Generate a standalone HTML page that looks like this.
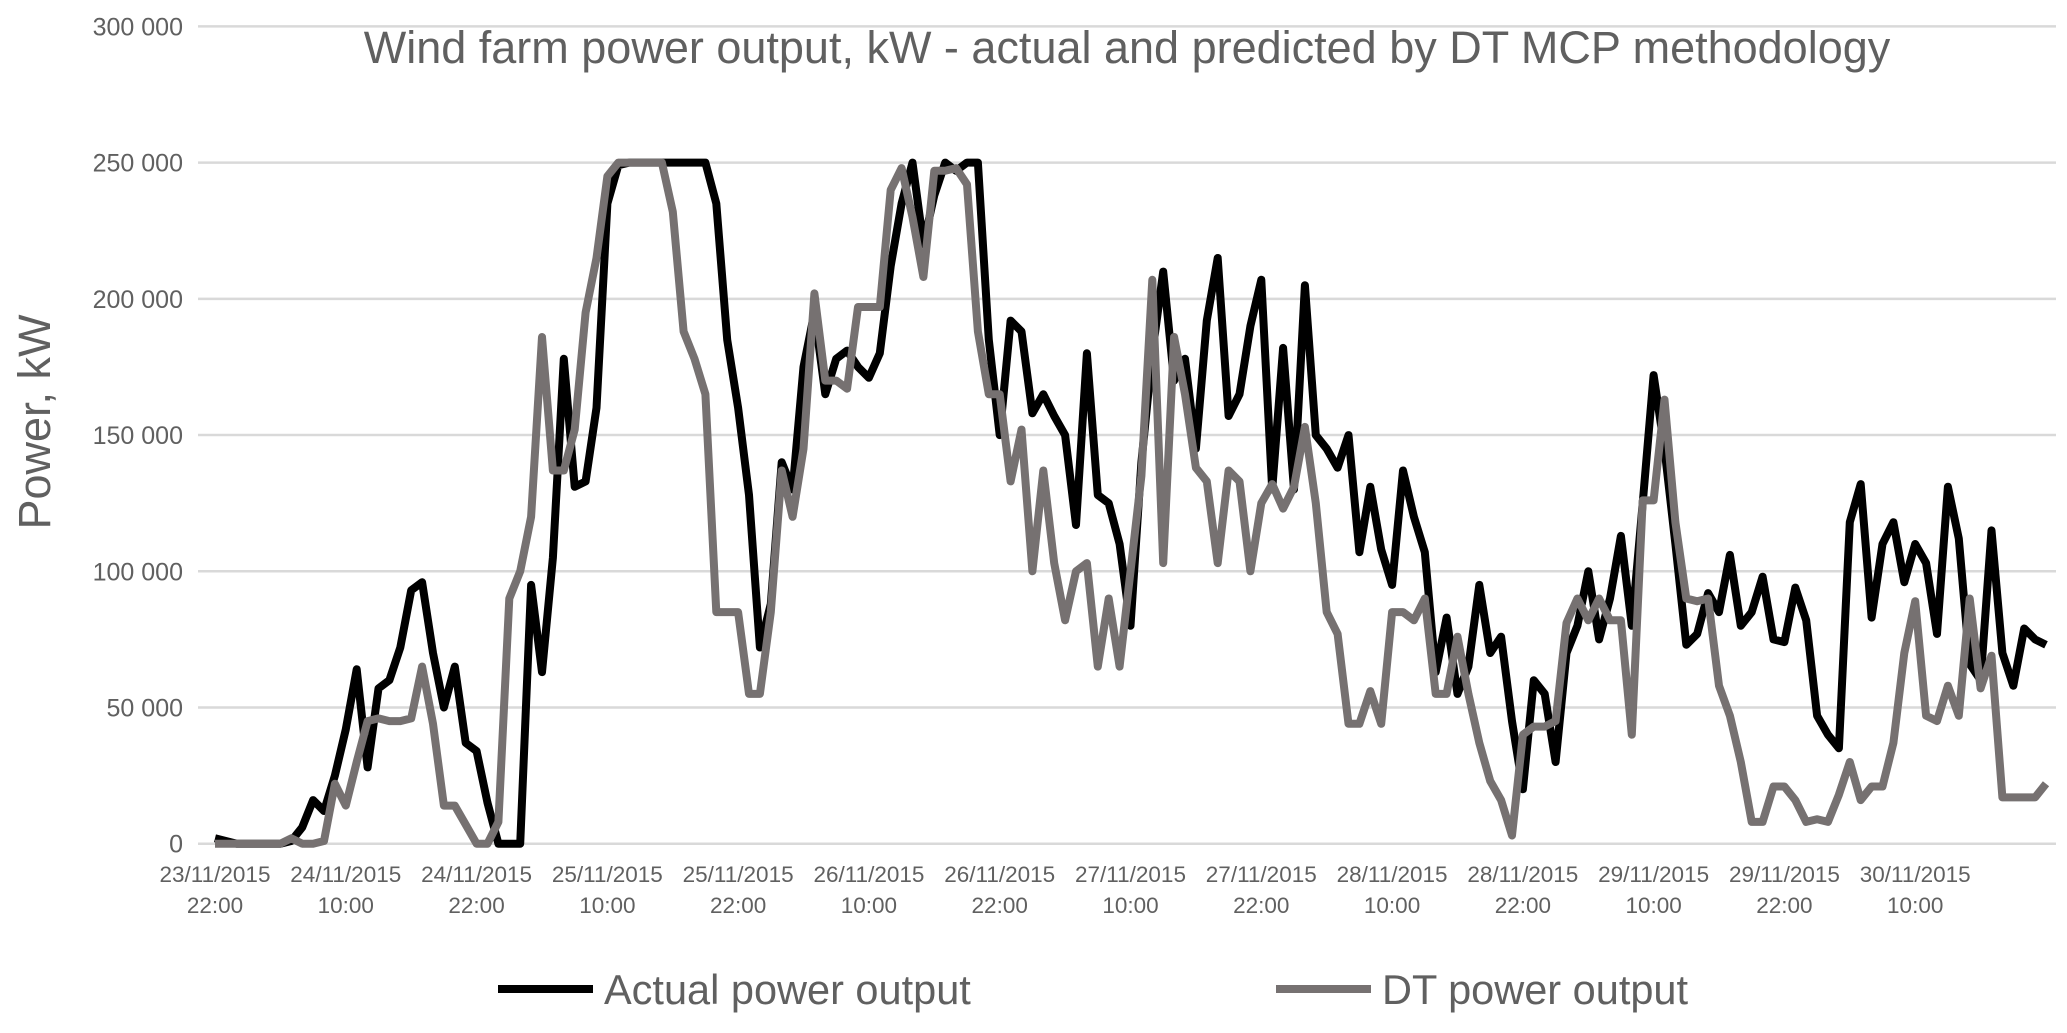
<!DOCTYPE html>
<html><head><meta charset="utf-8"><style>
html,body{margin:0;padding:0;background:#fff;}
svg text{font-family:"Liberation Sans",Arial,sans-serif;fill:#606060;}
</style></head><body>
<svg id="chart" width="2067" height="1028" viewBox="0 0 2067 1028" xmlns="http://www.w3.org/2000/svg">
<text x="1127" y="63" font-size="45" text-anchor="middle">Wind farm power output, kW - actual and predicted by DT MCP methodology</text>
<text transform="translate(50,422) rotate(-90)" font-size="45" text-anchor="middle">Power, kW</text>
<g id="grid"></g><g id="yticks"></g><g id="xticks"></g><g id="series"></g>
<g>
<line x1="498" y1="989" x2="593" y2="989" stroke="#000" stroke-width="8"/>
<text x="604" y="1004" font-size="41.5">Actual power output</text>
<line x1="1276" y1="989" x2="1371" y2="989" stroke="#767171" stroke-width="8"/>
<text x="1382" y="1004" font-size="41.5">DT power output</text>
</g>
</svg>
<script>
const actual=[2,1,0,0,0,0,0,1,6,16,12,25,42,64,28,57,60,72,93,96,70,50,65,37,34,15,0,0,0,95,63,105,178,131,133,160,235,249,250,250,250,250,250,250,250,250,235,185,160,128,72,88,140,130,175,195,165,178,181,175,171,180,212,235,250,220,238,250,247,250,250,185,150,192,188,158,165,157,150,117,180,128,125,110,80,140,180,210,170,178,145,192,215,157,165,190,207,130,182,130,205,150,145,138,150,107,131,108,95,137,120,107,63,83,55,65,95,70,76,45,20,60,55,30,70,80,100,75,90,113,80,125,172,145,110,73,77,92,85,106,80,85,98,75,74,94,82,47,40,35,118,132,83,110,118,96,110,103,77,131,112,66,60,115,70,58,79,75,73];
const predicted=[0,0,0,0,0,0,0,2,0,0,1,22,14,30,45,46,45,45,46,65,44,14,14,7,0,0,8,90,100,120,186,137,137,152,195,215,245,250,250,250,250,250,232,188,178,165,85,85,85,55,55,85,137,120,145,202,170,170,167,197,197,197,240,248,230,208,247,247,248,242,188,165,165,133,152,100,137,103,82,100,103,65,90,65,100,135,207,103,186,165,138,133,103,137,133,100,125,132,123,131,153,125,85,77,44,44,56,44,85,85,82,90,55,55,76,55,37,23,16,3,40,43,43,45,81,90,82,90,82,82,40,126,126,163,118,90,89,90,58,47,30,8,8,21,21,16,8,9,8,18,30,16,21,21,37,70,89,47,45,58,47,90,57,69,17,17,17,17,22];
const yTicks=[0,50000,100000,150000,200000,250000,300000];
const xDates=["23/11/2015","24/11/2015","24/11/2015","25/11/2015","25/11/2015","26/11/2015","26/11/2015","27/11/2015","27/11/2015","28/11/2015","28/11/2015","29/11/2015","29/11/2015","30/11/2015"];
const xTimes=["22:00","10:00","22:00","10:00","22:00","10:00","22:00","10:00","22:00","10:00","22:00","10:00","22:00","10:00"];
const NS="http://www.w3.org/2000/svg";
const x0=215,x1=2046,y0=843.7,yTop=26.4;
const n=actual.length;
function xs(i){return x0+(x1-x0)*i/(n-1);}
function ys(v){return y0-(y0-yTop)*v/300000;}
function mk(t,a,p){const e=document.createElementNS(NS,t);for(const k in a)e.setAttribute(k,a[k]);p.appendChild(e);return e;}
const grid=document.getElementById('grid'),yt=document.getElementById('yticks'),xt=document.getElementById('xticks'),ser=document.getElementById('series');
yTicks.forEach(v=>{
 const l=mk('line',{x1:198,x2:2056,y1:ys(v),y2:ys(v),stroke:'#d9d9d9','stroke-width':2.5},grid);
 
 
 const t=mk('text',{x:183,y:ys(v)+9,'font-size':25,'text-anchor':'end'},yt);
 t.textContent=String(v).replace(/(\d)(?=(\d{3})$)/,'$1 ');
 
 
});
xDates.forEach((d,k)=>{
 const x=xs(k*12);
 const t=mk('text',{x:x,y:882,'font-size':22.5,'text-anchor':'middle'},xt);
 t.textContent=d;
 
 
 const t2=mk('text',{x:x,y:913,'font-size':22.5,'text-anchor':'middle'},xt);
 t2.textContent=xTimes[k];
 
 
});
function line(arr,col,name){
 const d=arr.map((v,i)=>(i?'L':'M')+xs(i).toFixed(1)+' '+ys(v*1000).toFixed(1)).join(' ');
 const p=mk('path',{d:d,fill:'none',stroke:col,'stroke-width':8,'stroke-linejoin':'round'},ser);
 
 
}
line(actual,'#000','actual-power-line');
line(predicted,'#767171','dt-power-line');
</script>
</body></html>
